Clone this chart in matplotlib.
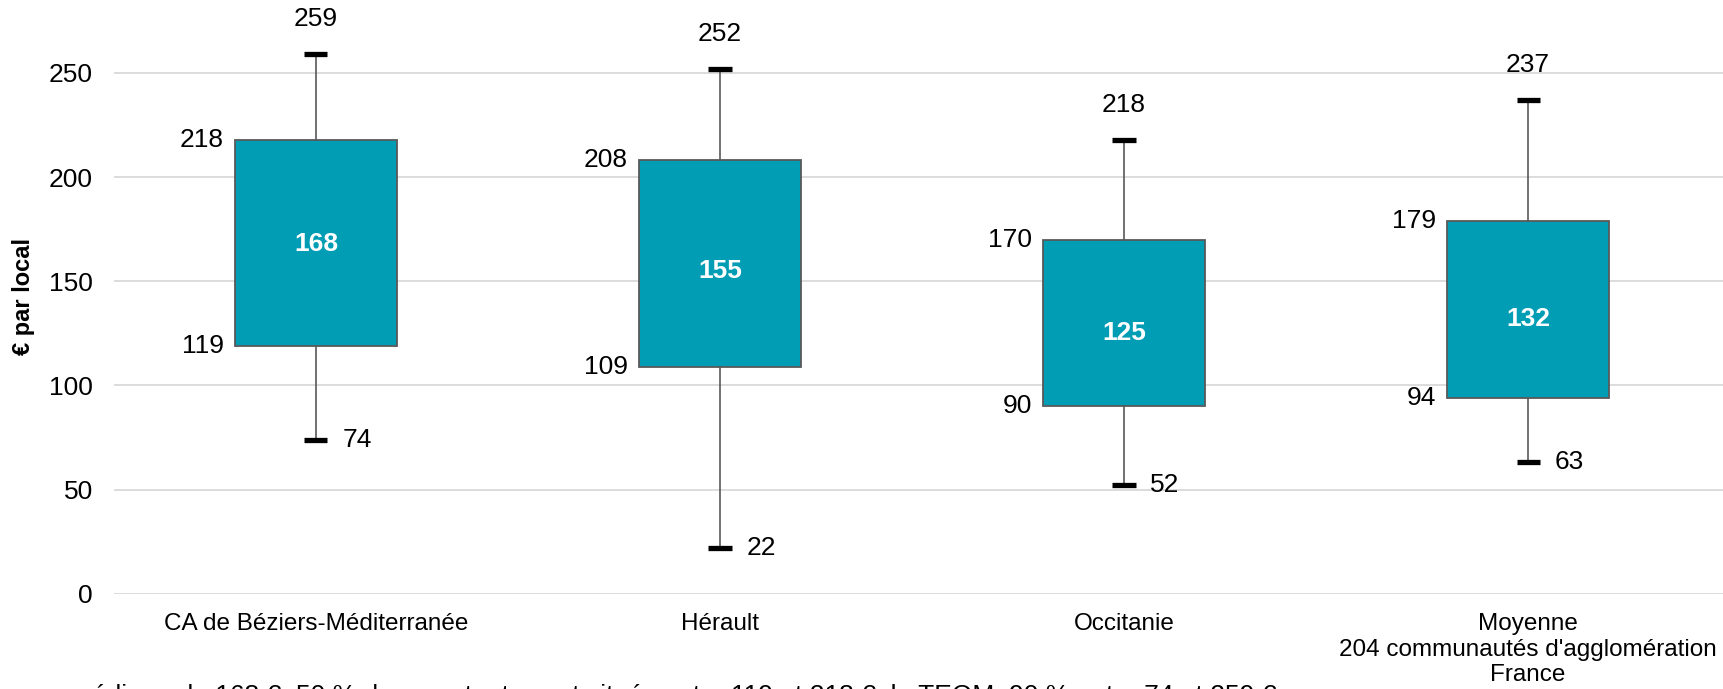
import matplotlib
matplotlib.use("Agg")
import matplotlib.pyplot as plt

plt.rcParams['font.family'] = ['Liberation Sans', 'DejaVu Sans']

# data (euros per local)
categories = ["CA de Béziers-Méditerranée", "Hérault", "Occitanie",
              "Moyenne\n204 communautés d'agglomération\nFrance"]
whisker_low = [74, 22, 52, 63]
q1 = [119, 109, 90, 94]
median = [168, 155, 125, 132]
q3 = [218, 208, 170, 179]
whisker_high = [259, 252, 218, 237]
footnote = ("médiane de 168 €, 50 % des montants sont situés entre 119 et 218 €, "
            "la TEOM, 90 % entre 74 et 259 €")

box_color = '#009db5'
edge_color = '#595959'

fig = plt.figure(figsize=(17.24, 6.89), dpi=100)
ax = fig.add_axes([0.0661, 0.1383, 0.9374, 0.8617])

stats = []
for i in range(len(categories)):
    stats.append({'med': median[i], 'q1': q1[i], 'q3': q3[i],
                  'whislo': whisker_low[i], 'whishi': whisker_high[i],
                  'fliers': []})

positions = list(range(len(categories)))
ax.bxp(stats, positions=positions, widths=0.4, capwidths=0.057,
       patch_artist=True, showfliers=False,
       boxprops=dict(facecolor=box_color, edgecolor=edge_color, linewidth=1.3),
       whiskerprops=dict(color=edge_color, linewidth=1.2),
       capprops=dict(color='black', linewidth=3.8, solid_capstyle='butt'),
       medianprops=dict(linewidth=0))

# value labels
fs = 19
for i, x in enumerate(positions):
    ax.annotate(str(whisker_high[i]), (x, whisker_high[i]), xytext=(0, 25),
                textcoords='offset points', ha='center', va='center', fontsize=fs)
    ax.annotate(str(whisker_low[i]), (x, whisker_low[i]), xytext=(19, 0),
                textcoords='offset points', ha='left', va='center', fontsize=fs)
    ax.annotate(str(q3[i]), (x - 0.2, q3[i]), xytext=(-8, 0),
                textcoords='offset points', ha='right', va='center', fontsize=fs)
    ax.annotate(str(q1[i]), (x - 0.2, q1[i]), xytext=(-8, 0),
                textcoords='offset points', ha='right', va='center', fontsize=fs)
    ax.text(x, median[i], str(median[i]), ha='center', va='center',
            fontsize=fs, fontweight='bold', color='white')

ax.set_xlim(-0.5, len(categories) - 0.5)
ax.set_ylim(0, 285)
ax.set_yticks([0, 50, 100, 150, 200, 250])
ax.set_xticks(positions)
ax.set_xticklabels(categories, fontsize=17.5, linespacing=1.2, va='top')
ax.tick_params(axis='x', length=0, pad=14)
ax.tick_params(axis='y', length=0, pad=15, labelsize=19)
ax.grid(axis='y', color='#d9d9d9', linewidth=1.3)
ax.set_axisbelow(True)
for s in ax.spines.values():
    s.set_visible(False)

ax.set_ylabel('€ par local', fontsize=17, fontweight='bold')
ax.yaxis.set_label_coords(-0.049, 0.5)

# footnote, cut off by the bottom edge as in the original
fig.text(70 / 1724, 5 / 689, footnote, ha='left', va='top', fontsize=19)

fig.savefig('out.png', dpi=100)
